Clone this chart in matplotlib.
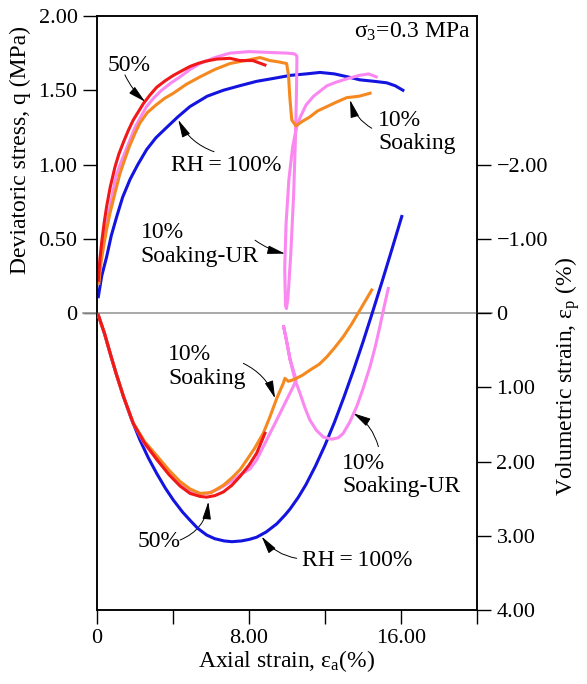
import matplotlib
matplotlib.use("Agg")
import matplotlib.pyplot as plt

plt.rcParams['font.family'] = ['Liberation Serif', 'DejaVu Serif']
plt.rcParams['mathtext.fontset'] = 'custom'
plt.rcParams['mathtext.rm'] = 'Liberation Serif'
plt.rcParams['mathtext.it'] = 'Liberation Serif:italic'

# deviatoric stress q (MPa) vs axial strain (%)
red_x = [0.07, 0.15, 0.25, 0.38, 0.51, 0.7, 0.95, 1.15, 1.39, 1.65, 1.91, 2.2, 2.44, 2.8, 3.14, 3.6,
         4.02, 4.45, 4.89, 5.3, 5.7, 6.3, 7.0, 7.53, 8.2, 8.84]
red_q = [0.22, 0.36, 0.48, 0.61, 0.72, 0.85, 0.985, 1.07, 1.15, 1.23, 1.30, 1.36, 1.41, 1.47, 1.52, 1.565,
         1.60, 1.63, 1.66, 1.68, 1.695, 1.71, 1.715, 1.70, 1.70, 1.67]

pink_x = [0.07, 0.15, 0.3, 0.45, 0.6, 0.8, 1.0, 1.25, 1.5, 1.75, 2.0, 2.3, 2.61, 3.0, 3.4, 3.9, 4.37,
          4.9, 5.42, 6.2, 7.0, 8.0, 9.0, 10.0, 10.4, 10.52, 10.52, 10.50, 10.45, 10.35, 10.2, 10.05,
          9.97, 9.92, 9.88, 9.95, 10.1, 10.3, 10.5, 10.7, 11.0, 11.4, 11.7, 12.1, 12.6, 13.1, 13.8,
          14.3, 14.7]
pink_q = [0.2, 0.32, 0.44, 0.56, 0.66, 0.79, 0.92, 1.01, 1.09, 1.17, 1.25, 1.32, 1.39, 1.45, 1.50, 1.55, 1.59,
          1.64, 1.68, 1.72, 1.75, 1.76, 1.755, 1.75, 1.745, 1.73, 1.70, 1.5, 1.2, 0.8, 0.4, 0.1,
          0.03, 0.05, 0.3, 0.6, 0.9, 1.12, 1.25, 1.32, 1.40, 1.46, 1.49, 1.53, 1.555, 1.575, 1.60,
          1.61, 1.59]

orange_x = [0.1, 0.2, 0.35, 0.5, 0.68, 0.95, 1.21, 1.45, 1.7, 2.0, 2.26, 2.65, 3.1, 3.55, 4.02, 4.7, 5.42,
            6.2, 7.0, 7.8, 8.58, 9.1, 9.6, 9.98, 10.08, 10.15, 10.25, 10.47, 10.8, 11.2, 11.6, 12.1,
            12.6, 13.14, 13.8, 14.37]
orange_q = [0.2, 0.33, 0.45, 0.56, 0.67, 0.81, 0.94, 1.03, 1.12, 1.21, 1.28, 1.35, 1.40, 1.445, 1.48, 1.54, 1.59,
            1.64, 1.68, 1.70, 1.72, 1.70, 1.69, 1.68, 1.60, 1.45, 1.30, 1.26, 1.29, 1.32, 1.36, 1.39,
            1.42, 1.45, 1.46, 1.48]

blue_x = [0.07, 0.25, 0.51, 0.75, 1.04, 1.35, 1.74, 2.15, 2.61, 3.1, 3.67, 4.25, 4.89, 5.8, 6.65, 7.5, 8.4,
          9.3, 10.16, 11.0, 11.74, 12.5, 13.2, 13.84, 14.6, 15.25, 15.7, 16.1]
blue_q = [0.11, 0.25, 0.38, 0.52, 0.65, 0.78, 0.90, 1.00, 1.10, 1.18, 1.25, 1.32, 1.39, 1.46, 1.50, 1.53, 1.56,
          1.58, 1.60, 1.61, 1.62, 1.61, 1.59, 1.57, 1.56, 1.55, 1.53, 1.50]

# volumetric strain (%) vs axial strain (%), compression positive
red_ev_x = [0.07, 0.4, 0.7, 1.0, 1.4, 1.91, 2.5, 3.14, 3.8, 4.37, 4.9, 5.42, 5.77, 6.2, 6.65, 7.1, 7.53,
            8.0, 8.4, 8.84]
red_ev = [0.03, 0.28, 0.55, 0.81, 1.13, 1.49, 1.75, 1.97, 2.18, 2.33, 2.43, 2.47, 2.48, 2.46, 2.41, 2.32, 2.20,
          2.05, 1.89, 1.62]

orange_ev_x = [0.07, 0.4, 0.7, 1.0, 1.4, 1.91, 2.5, 3.14, 3.8, 4.37, 4.9, 5.42, 6.0, 6.65, 7.1, 7.53, 7.88,
               8.3, 8.75, 9.1, 9.46, 9.8, 9.89, 10.07, 10.33, 10.8, 11.2, 11.7, 12.1, 12.5, 12.96, 13.4,
               13.84, 14.46]
orange_ev = [0.03, 0.28, 0.55, 0.81, 1.13, 1.48, 1.73, 1.92, 2.12, 2.27, 2.37, 2.43, 2.42, 2.32, 2.22, 2.11,
             1.98, 1.82, 1.62, 1.40, 1.15, 0.95, 0.88, 0.92, 0.90, 0.84, 0.77, 0.69, 0.59, 0.47, 0.32, 0.15,
             -0.04, -0.31]

pink_ev_x = [0.07, 0.4, 0.7, 1.0, 1.4, 1.91, 2.5, 3.14, 3.8, 4.37, 4.89, 5.3, 5.8, 6.4, 7.0, 7.53, 8.05,
             8.4, 8.93, 9.46, 10.0, 10.33, 10.48, 10.16, 9.95, 9.82, 9.95, 10.16, 10.4, 10.68, 10.95,
             11.2, 11.55, 11.91, 12.35, 12.7, 12.96, 13.3, 13.67, 14.0, 14.37, 14.65, 14.89, 15.1, 15.33]
pink_ev = [0.03, 0.28, 0.55, 0.81, 1.13, 1.49, 1.76, 1.97, 2.17, 2.31, 2.40, 2.43, 2.43, 2.37, 2.28, 2.18, 2.10,
           1.98, 1.71, 1.44, 1.16, 0.99, 0.90, 0.62, 0.34, 0.18, 0.34, 0.63, 0.88, 1.08, 1.28,
           1.44, 1.58, 1.67, 1.70, 1.68, 1.62, 1.47, 1.26, 1.02, 0.72, 0.45, 0.18, -0.07, -0.33]

blue_ev_x = [0.07, 0.4, 0.7, 1.0, 1.4, 1.8, 2.26, 2.7, 3.14, 3.6, 4.02, 4.5, 4.89, 5.3, 5.77, 6.2, 6.7,
             7.1, 7.6, 8.0, 8.4, 8.9, 9.46, 9.9, 10.16, 10.6, 11.0, 11.5, 12.0, 12.5, 13.0, 13.5, 14.0,
             14.5, 15.0, 15.5, 16.04]
blue_ev = [0.03, 0.28, 0.55, 0.81, 1.13, 1.42, 1.71, 1.95, 2.16, 2.36, 2.52, 2.68, 2.79, 2.90, 2.99, 3.04, 3.07,
           3.08, 3.07, 3.05, 3.02, 2.95, 2.84, 2.72, 2.64, 2.48, 2.31, 2.06, 1.78, 1.47, 1.13, 0.77, 0.39,
           -0.01, -0.42, -0.84, -1.30]

x_ticks = [0, 4, 8, 12, 16, 20]
x_labels = ['0', '', '8.00', '', '16.00', '']
q_ticks = [0, 0.5, 1.0, 1.5, 2.0]
q_labels = ['0', '0.50', '1.00', '1.50', '2.00']
ev_ticks = [-2, -1, 0, 1, 2, 3, 4]
ev_labels = ['\u22122.00', '\u22121.00', '0', '1.00', '2.00', '3.00', '4.00']

RED = '#f01818'
ORANGE = '#f5891f'
PINK = '#fa88f0'
BLUE = '#1414e0'
GRAY = '#9a9a9a'
FS_TICK = 16
FS = 17

fig = plt.figure(figsize=(5.87, 6.84), dpi=100)
ax = fig.add_axes([97 / 587, 1 - 610 / 684, 380 / 587, 594 / 684])
ax2 = ax.twinx()

ax.set_xlim(0, 20)
ax.set_ylim(-2, 2)
ax2.set_ylim(4, -4)

ax.set_xticks(x_ticks)
ax.set_xticklabels(x_labels)
ax.set_yticks(q_ticks)
ax.set_yticklabels(q_labels)
ax2.set_yticks(ev_ticks)
ax2.set_yticklabels(ev_labels)

for a in (ax, ax2):
    a.tick_params(direction='out', length=10, width=1.0, labelsize=FS_TICK, pad=4)
    for s in a.spines.values():
        s.set_linewidth(1.1)

# zero line shared by both axes
ax.plot([-14 / 380, 1 + 15 / 380], [0, 0], transform=ax.get_yaxis_transform(),
        color=GRAY, lw=1.2, clip_on=False, zorder=3)
for t in ax2.yaxis.get_major_ticks():
    if t.get_loc() == 0:
        t.tick2line.set_color(GRAY)

lw = 2.2
ax.plot(blue_x, blue_q, color=BLUE, lw=lw, zorder=4, solid_joinstyle='round')
ax.plot(pink_x, pink_q, color=PINK, lw=lw, zorder=4, solid_joinstyle='round')
ax.plot(orange_x, orange_q, color=ORANGE, lw=lw, zorder=5, solid_joinstyle='round')
ax.plot(red_x, red_q, color=RED, lw=lw, zorder=6, solid_joinstyle='round')

ax2.plot(blue_ev_x, blue_ev, color=BLUE, lw=lw, zorder=4, solid_joinstyle='round')
ax2.plot(pink_ev_x, pink_ev, color=PINK, lw=lw, zorder=4, solid_joinstyle='round')
ax2.plot(orange_ev_x, orange_ev, color=ORANGE, lw=lw, zorder=5, solid_joinstyle='round')
ax2.plot(red_ev_x, red_ev, color=RED, lw=lw, zorder=6, solid_joinstyle='round')

ax.set_xlabel('Axial strain, \u03b5$_{\\mathrm{a}}$(%)', fontsize=FS, labelpad=0)
fig.text(20 / 587, 1 - 150 / 684, 'Deviatoric stress, q (MPa)', rotation=90,
         fontsize=FS, ha='center', va='center')
fig.text(568 / 587, 1 - 376 / 684, 'Volumetric strain, \u03b5$_{\\mathrm{p}}$ (%)', rotation=90,
         fontsize=FS, ha='center', va='center')

ax.text(19.7, 1.89, '\u03c3$_{3}$=0.3 MPa', fontsize=FS, ha='right', va='center')

labels = [
    ('50%', 0.55, 1.67),
    ('RH\u2009=\u2009100%', 3.9, 0.99),
    ('10%\nSoaking-UR', 2.3, 0.46),
    ('10%\nSoaking', 14.8, 1.22),
    ('10%\nSoaking', 3.75, -0.36),
    ('50%', 2.15, -1.54),
    ('RH\u2009=\u2009100%', 10.8, -1.67),
    ('10%\nSoaking-UR', 12.9, -1.09),
]
for s, x, y in labels:
    ax.text(x, y, s, fontsize=FS, ha='left', va='center', linespacing=1.15, zorder=7)

arrows = [
    ((1.47, 1.603), (2.53, 1.423), 0.1),
    ((6.16, 1.086), (4.28, 1.30), -0.2),
    ((8.32, 0.49), (9.89, 0.40), 0.1),
    ((14.46, 1.244), (13.32, 1.434), -0.2),
    ((7.70, -0.339), (9.37, -0.574), -0.2),
    ((4.37, -1.529), (5.86, -1.271), 0.3),
    ((10.51, -1.652), (8.67, -1.506), -0.2),
    ((14.81, -0.90), (13.49, -0.675), 0.2),
]
for start, tip, rad in arrows:
    ax.annotate('', xy=tip, xytext=start, zorder=7,
                arrowprops=dict(arrowstyle='-|>,head_length=0.9,head_width=0.22',
                                color='k', lw=0.7, mutation_scale=12,
                                shrinkA=0, shrinkB=0,
                                connectionstyle='arc3,rad=%s' % rad))

fig.savefig('out.png', dpi=100)
